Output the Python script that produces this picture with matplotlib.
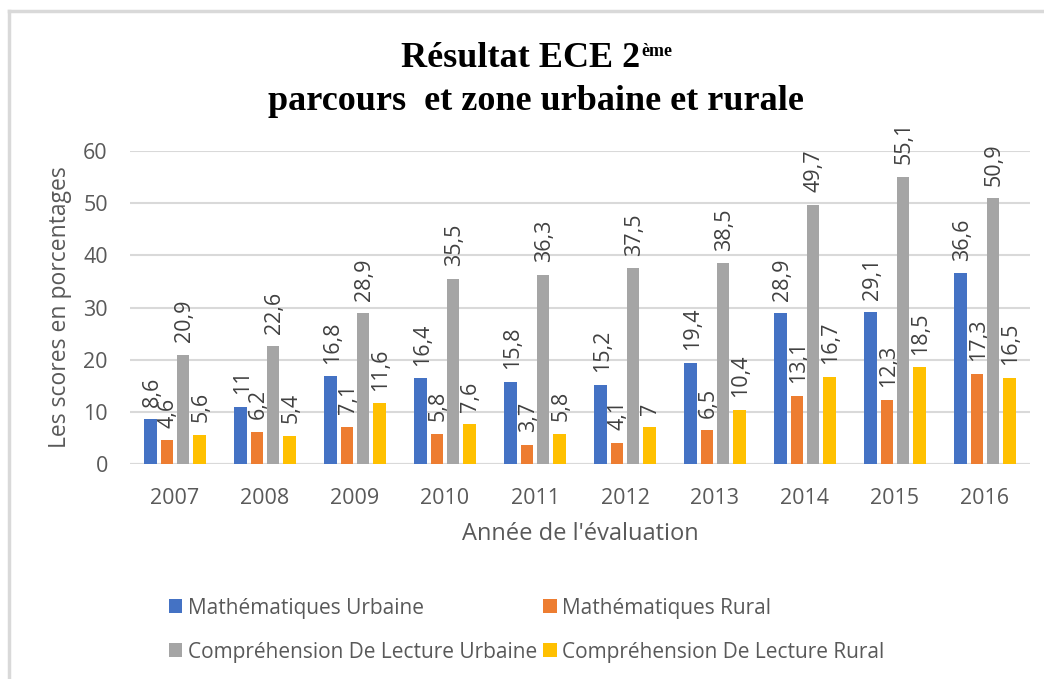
import matplotlib
matplotlib.use("Agg")
import matplotlib.pyplot as plt
from matplotlib.patches import Patch
from matplotlib.lines import Line2D
import numpy as np

years = ["2007", "2008", "2009", "2010", "2011", "2012", "2013", "2014", "2015", "2016"]
math_urbaine = [8.6, 11, 16.8, 16.4, 15.8, 15.2, 19.4, 28.9, 29.1, 36.6]
math_rural = [4.6, 6.2, 7.1, 5.8, 3.7, 4.1, 6.5, 13.1, 12.3, 17.3]
lecture_urbaine = [20.9, 22.6, 28.9, 35.5, 36.3, 37.5, 38.5, 49.7, 55.1, 50.9]
lecture_rural = [5.6, 5.4, 11.6, 7.6, 5.8, 7, 10.4, 16.7, 18.5, 16.5]
series_names = ["Mathématiques Urbaine", "Mathématiques Rural",
                "Compréhension De Lecture Urbaine", "Compréhension De Lecture Rural"]
colors = ["#4472C4", "#ED7D31", "#A5A5A5", "#FFC000"]

plt.rcParams['font.family'] = ['Open Sans', 'DejaVu Sans']
text_gray = "#595959"

fig = plt.figure(figsize=(10.44, 6.79), dpi=100)
ax = fig.add_axes([130 / 1044, 1 - 464 / 679, 900 / 1044, 313 / 679])

x = np.arange(len(years))
width = 0.141
pitch = 0.18
all_series = [math_urbaine, math_rural, lecture_urbaine, lecture_rural]

for i, (vals, col) in enumerate(zip(all_series, colors)):
    pos = x + (i - 1.5) * pitch
    ax.bar(pos, vals, width=width, color=col, zorder=3)
    for px, v in zip(pos, vals):
        lab = f"{v:g}".replace(".", ",")
        ax.annotate(lab, (px, v), xytext=(1, 9), textcoords="offset points",
                    rotation=90, ha="center", va="bottom",
                    fontsize=15.5, color="#404040")

ax.set_xlim(-0.5, len(years) - 0.5)
ax.set_ylim(0, 60)
ax.set_yticks(range(0, 61, 10))
ax.set_xticks(x)
ax.set_xticklabels(years)
ax.yaxis.grid(True, color="#D9D9D9", linewidth=1.5, zorder=0)
for s in ax.spines.values():
    s.set_visible(False)
ax.axhline(0, color="#D9D9D9", linewidth=1.5, zorder=1)
ax.tick_params(length=0, labelsize=15.5, colors=text_gray)
ax.tick_params(axis="x", pad=17)
ax.tick_params(axis="y", pad=16)

ax.set_ylabel("Les scores en porcentages", fontsize=16.5, color=text_gray, labelpad=8)
ax.set_xlabel("Année de l'évaluation", fontsize=17, color=text_gray, labelpad=10)

# title with superscript
t1 = fig.text(0.5, 1 - 67 / 679, "Résultat ECE 2", fontsize=26, fontweight="bold",
              family="Liberation Serif", ha="left", va="baseline")
sup = fig.text(0.5, 1 - 56 / 679, "ème", fontsize=13, fontweight="bold",
               family="Liberation Serif", ha="left", va="baseline")
fig.canvas.draw()
r = fig.canvas.get_renderer()
w1 = t1.get_window_extent(r).width
w2 = sup.get_window_extent(r).width
start = 536 - (w1 + w2) / 2
t1.set_x(start / 1044)
sup.set_x((start + w1 + 1) / 1044)
fig.text(536 / 1044, 1 - 110 / 679, "parcours  et zone urbaine et rurale", fontsize=26,
         fontweight="bold", family="Liberation Serif", ha="center", va="baseline")

handles = [Patch(facecolor=c, edgecolor="none") for c in colors]
# legend fills by column: column 1 = urbaine rows, column 2 = rural
order = [0, 2, 1, 3]
leg = fig.legend([handles[k] for k in order], [series_names[k] for k in order],
                 ncol=2, loc="upper left",
                 bbox_to_anchor=(150 / 1044, 1 - 579 / 679), frameon=False,
                 fontsize=15, handlelength=0.65, handleheight=0.65, handletextpad=0.25,
                 columnspacing=0.3, labelspacing=1.1, labelcolor=text_gray)

# chart border (left and top visible)
fig.add_artist(Line2D([9 / 1044, 9 / 1044], [0, 1 - 11 / 679], transform=fig.transFigure,
                      color="#D9D9D9", linewidth=2.5))
fig.add_artist(Line2D([9 / 1044, 1], [1 - 11 / 679, 1 - 11 / 679], transform=fig.transFigure,
                      color="#D9D9D9", linewidth=2.5))

fig.savefig("out.png", dpi=100)
